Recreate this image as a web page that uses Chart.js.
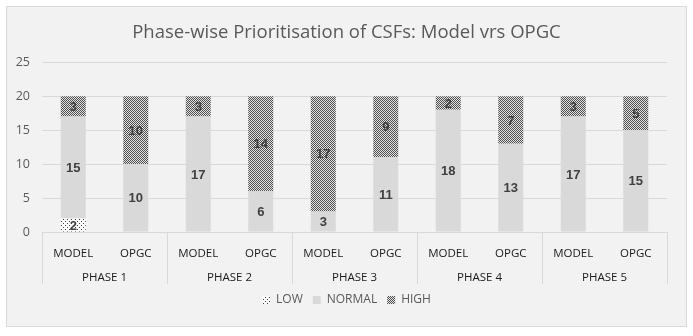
<!DOCTYPE html>
<html><head><meta charset="utf-8">
<script src="https://cdn.jsdelivr.net/npm/chart.js@4"></script>
<style>html,body{margin:0;padding:0;background:#fff}#wrap{position:absolute;left:0;top:0;width:693px;height:336px}</style>
</head><body><div id="wrap"><canvas id="c" width="693" height="336"></canvas></div>
<script>
const phases = ['PHASE 1', 'PHASE 2', 'PHASE 3', 'PHASE 4', 'PHASE 5'];
const groups = ['MODEL', 'OPGC'];
const categories = ['MODEL','OPGC','MODEL','OPGC','MODEL','OPGC','MODEL','OPGC','MODEL','OPGC'];
const lowValues = [2, 0, 0, 0, 0, 0, 0, 0, 0, 0];
const normalValues = [15, 10, 17, 6, 3, 11, 18, 13, 17, 15];
const highValues = [3, 10, 3, 14, 17, 9, 2, 7, 3, 5];
const seriesNames = ['LOW', 'NORMAL', 'HIGH'];
const yTicks = [0, 5, 10, 15, 20, 25];

const canvas = document.getElementById('c');
const ctx = canvas.getContext('2d');

function makePattern(size, bg, fg, pts) {
  const c = document.createElement('canvas');
  c.width = size; c.height = size;
  const g = c.getContext('2d');
  g.fillStyle = bg; g.fillRect(0, 0, size, size);
  g.fillStyle = fg;
  pts.forEach(p => g.fillRect(p[0], p[1], 1, 1));
  return ctx.createPattern(c, 'repeat');
}
const lowPattern = makePattern(4, '#fbfbfb', '#404040', [[1,1],[3,3]]);
const highPattern = makePattern(2, '#e4e4e4', '#4d4d4d', [[0,0],[1,1]]);

const bgPlugin = {
  id: 'bg',
  beforeDraw(chart) {
    const c = chart.ctx;
    c.save();
    c.fillStyle = '#ffffff';
    c.fillRect(0, 0, chart.width, chart.height);
    c.fillStyle = '#f2f2f2';
    c.fillRect(7, 7, 679, 319);
    c.strokeStyle = '#d9d9d9';
    c.lineWidth = 1;
    c.strokeRect(6.5, 6.5, 680, 320);
    c.restore();
  }
};

const sepPlugin = {
  id: 'sep',
  afterDraw(chart) {
    const xs = chart.scales.x, x2 = chart.scales.x2;
    const c = chart.ctx;
    c.save();
    c.strokeStyle = '#d9d9d9';
    c.lineWidth = 1;
    const n = phases.length;
    const w = (xs.right - xs.left) / n;
    for (let i = 0; i <= n; i++) {
      const x = Math.round(xs.left + i * w) + 0.5;
      c.beginPath();
      c.moveTo(x, xs.top);
      c.lineTo(x, x2.bottom);
      c.stroke();
    }
    c.restore();
  }
};

const labelPlugin = {
  id: 'vals',
  afterDatasetsDraw(chart) {
    const c = chart.ctx;
    c.save();
    c.font = 'bold 13px "Liberation Sans", Arial, sans-serif';
    c.fillStyle = '#404040';
    c.textAlign = 'center';
    c.textBaseline = 'middle';
    chart.data.datasets.forEach((ds, di) => {
      const meta = chart.getDatasetMeta(di);
      meta.data.forEach((el, i) => {
        const v = ds.data[i];
        if (!v) return;
        c.fillText(String(v), el.x, (el.y + el.base) / 2 + 1);
      });
    });
    c.restore();
  }
};

new Chart(ctx, {
  type: 'bar',
  data: {
    labels: categories,
    datasets: [
      { label: seriesNames[0], data: lowValues, backgroundColor: lowPattern },
      { label: seriesNames[1], data: normalValues, backgroundColor: '#d9d9d9' },
      { label: seriesNames[2], data: highValues, backgroundColor: highPattern }
    ]
  },
  options: {
    responsive: false,
    animation: false,
    devicePixelRatio: 1,
    datasets: { bar: { barPercentage: 0.4, categoryPercentage: 1.0, borderWidth: 0 } },
    layout: { padding: { left: 0, right: 0, top: 0, bottom: 20 } },
    plugins: {
      title: {
        display: true,
        text: 'Phase-wise Prioritisation of CSFs: Model vrs OPGC',
        color: '#595959',
        font: { family: '"Open Sans", sans-serif', size: 18.5, weight: 'normal' },
        padding: { top: 22, bottom: 18 }
      },
      legend: {
        position: 'bottom',
        labels: {
          boxWidth: 8, boxHeight: 8, padding: 10,
          color: '#595959',
          font: { family: '"Open Sans", sans-serif', size: 12 }
        }
      },
      tooltip: { enabled: false }
    },
    scales: {
      x: {
        stacked: true,
        weight: 0,
        grid: { display: false, drawTicks: false },
        border: { display: false },
        ticks: { color: '#1a1a1a', padding: 15, maxRotation: 0, autoSkip: false,
                 font: { family: '"Open Sans", sans-serif', size: 11.5 } },
        afterFit(s) { s.height = 26; }
      },
      x2: {
        type: 'category',
        labels: phases,
        position: 'bottom',
        weight: 1,
        offset: true,
        grid: { display: false, drawTicks: false },
        border: { display: false },
        ticks: { color: '#1a1a1a', padding: 13, maxRotation: 0, autoSkip: false,
                 font: { family: '"Open Sans", sans-serif', size: 11.5 } },
        afterFit(s) { s.height = 26; }
      },
      y: {
        stacked: true,
        min: 0, max: 25,
        afterBuildTicks(s) { s.ticks = yTicks.map(v => ({ value: v })); },
        grid: { color: '#d9d9d9', drawTicks: false },
        border: { display: false },
        ticks: { color: '#595959', padding: 12,
                 font: { family: '"Open Sans", sans-serif', size: 12.5 } },
        afterFit(s) { s.width = 42; }
      },
      yr: {
        type: 'linear',
        position: 'right',
        grid: { display: false, drawTicks: false },
        border: { display: false },
        ticks: { display: false },
        afterFit(s) { s.width = 26; }
      }
    }
  },
  plugins: [bgPlugin, sepPlugin, labelPlugin]
});
</script>
</body></html>
